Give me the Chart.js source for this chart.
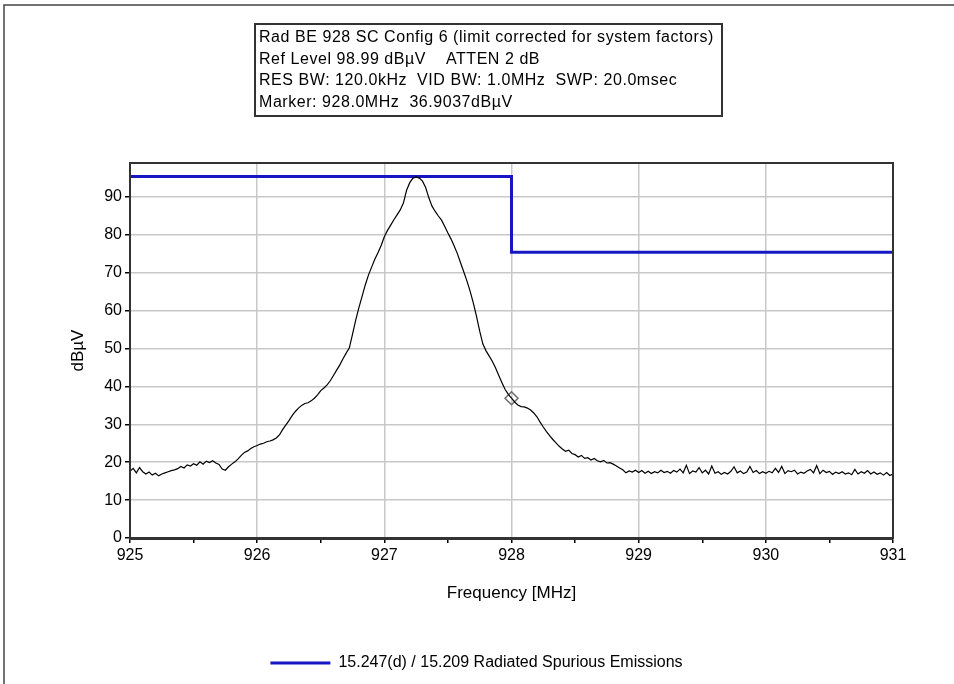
<!DOCTYPE html>
<html>
<head>
<meta charset="utf-8">
<script src="https://cdn.jsdelivr.net/npm/chart.js@4.4.1/dist/chart.umd.min.js"></script>
<style>
  body { margin: 0; background: #fff; }
  #wrap { position: relative; width: 954px; height: 684px; }
  #info {
    position: absolute; left: 254px; top: 23px; width: 462px; height: 89px;
    border: 2px solid #333; padding: 1px 0 0 3px;
    font: 16px "Liberation Sans", Arial, sans-serif; line-height: 21.7px; color: #000;
    letter-spacing: 0.55px; white-space: nowrap;
  }
</style>
</head>
<body>
<div id="wrap">
  <canvas id="specChart" width="954" height="684"></canvas>
  <div id="info">
    <div>Rad BE 928 SC Config 6 (limit corrected for system factors)</div>
    <div>Ref Level 98.99 dBµV &nbsp;&nbsp;&nbsp;ATTEN 2 dB</div>
    <div>RES BW: 120.0kHz &nbsp;VID BW: 1.0MHz &nbsp;SWP: 20.0msec</div>
    <div>Marker: 928.0MHz &nbsp;36.9037dBµV</div>
  </div>
</div>
<script>
// sweep 925 - 931 MHz, one reading every 25 kHz
const sweepStart = 925;
const sweepStep = 0.025;

// trace level in dBuV
const traceLevel = [
  17.6, 18.4, 17.2, 18.6, 17.5, 16.9, 17.4, 16.6, 17.1, 16.4,
  16.9, 17.2, 17.5, 17.8, 18.0, 18.3, 18.9, 18.5, 19.3, 19.0,
  19.6, 19.2, 20.1, 19.5, 20.3, 19.9, 20.4, 19.8, 19.4, 18.2,
  17.9, 18.8, 19.5, 20.1, 20.9, 21.8, 22.6, 23.0, 23.6, 24.1,
  24.4, 24.8, 25.0, 25.4, 25.6, 25.9, 26.4, 27.2, 28.6, 29.8,
  31.0, 32.3, 33.4, 34.3, 35.0, 35.5, 35.7, 36.2, 36.9, 37.8,
  38.9, 39.6, 40.4, 41.5, 42.9, 44.3, 45.7, 47.3, 48.8, 50.2,
  53.8, 57.5, 60.8, 63.8, 66.8, 69.4, 71.5, 73.6, 75.3, 77.2,
  79.5, 81.2, 82.6, 84.0, 85.3, 86.6, 88.4, 91.8, 93.8, 95.0,
  95.3, 95.0, 94.2, 92.5, 89.8, 87.6, 86.2, 85.0, 83.9, 82.2,
  80.5, 78.9, 77.0, 75.0, 72.6, 70.2, 67.8, 65.1, 62.0, 58.5,
  54.6, 51.2, 49.4, 48.0, 46.6, 44.9, 42.9, 41.0, 39.2, 37.9,
  36.9, 35.9, 35.1, 34.7, 34.6, 34.3, 33.8, 33.0, 32.0, 30.6,
  29.3, 28.1, 27.0, 26.0, 25.1, 24.2, 23.5, 22.9, 23.2, 22.3,
  22.0, 21.4, 21.8, 21.0, 21.2, 20.6, 21.0, 20.4, 20.1, 20.5,
  19.8, 19.9, 19.5, 19.0, 18.5, 18.0, 17.2, 17.7, 17.4, 17.9,
  17.3, 17.8, 17.1, 17.6, 17.0, 17.5, 17.2, 17.9, 17.3, 17.6,
  17.1, 17.8, 17.4, 18.2, 17.2, 19.2, 17.0, 17.7, 17.4, 18.6,
  17.2, 17.9, 16.9, 19.0, 17.1, 17.5, 16.8, 17.3, 16.9, 17.6,
  18.8, 17.2, 17.7, 17.0, 17.4, 18.9, 17.3, 17.8, 17.0, 17.5,
  17.1, 17.6, 17.2, 18.4, 17.3, 18.9, 17.0, 17.8, 17.5, 17.9,
  16.9, 17.4, 17.1, 17.7, 18.1, 17.2, 19.1, 17.0, 17.9, 17.3,
  17.6, 16.8, 17.4, 17.0, 17.5, 16.9, 17.2, 16.7, 18.1, 16.9,
  17.5, 17.1, 17.8, 16.9, 17.4, 16.8, 17.2, 16.6, 17.3, 16.5,
  16.9
];

// limit line
const limitFreq = [925, 928, 928, 931];
const limitLevel = [95.4, 95.4, 75.4, 75.4];
const limitName = "15.247(d) / 15.209 Radiated Spurious Emissions";

// marker
const markerFreq = [928.0];
const markerLevel = [36.9037];

// axis ticks
const xTickValues = [925, 925.5, 926, 926.5, 927, 927.5, 928, 928.5, 929, 929.5, 930, 930.5, 931];
const xTickLabels = ["925", "", "926", "", "927", "", "928", "", "929", "", "930", "", "931"];
const yTickValues = [0, 5, 10, 15, 20, 25, 30, 35, 40, 45, 50, 55, 60, 65, 70, 75, 80, 85, 90, 95];
const yTickLabels = ["0", "", "10", "", "20", "", "30", "", "40", "", "50", "", "60", "", "70", "", "80", "", "90", ""];

const tracePoints = traceLevel.map((v, i) => ({ x: sweepStart + i * sweepStep, y: v }));
const limitPoints = limitFreq.map((f, i) => ({ x: f, y: limitLevel[i] }));
const markerPoints = markerFreq.map((f, i) => ({ x: f, y: markerLevel[i] }));

const FONT = "'Liberation Sans', Arial, sans-serif";

// frame round the plot and the outer window edge
const framePlugin = {
  id: "frames",
  afterDraw(chart) {
    const { ctx, chartArea: a } = chart;
    ctx.save();
    ctx.strokeStyle = "#333";
    ctx.lineWidth = 2;
    ctx.strokeRect(a.left, a.top, a.right - a.left, a.bottom - a.top);
    ctx.strokeStyle = "#444";
    ctx.lineWidth = 1.5;
    ctx.beginPath();
    ctx.moveTo(4, 684);
    ctx.lineTo(4, 5);
    ctx.lineTo(954, 5);
    ctx.stroke();
    ctx.restore();
  }
};

const specChart = new Chart(document.getElementById("specChart"), {
  type: "scatter",
  data: {
    datasets: [
      {
        data: tracePoints,
        showLine: true,
        borderColor: "#000",
        borderWidth: 1.2,
        pointRadius: 0,
        tension: 0
      },
      {
        data: markerPoints,
        pointStyle: "rectRot",
        pointRadius: 6.5,
        borderColor: "#6e6e6e",
        borderWidth: 1.5,
        backgroundColor: "rgba(255,255,255,0)"
      },
      {
        label: limitName,
        data: limitPoints,
        showLine: true,
        borderColor: "#1616c4",
        backgroundColor: "#1616c4",
        borderWidth: 3,
        pointRadius: 0,
        pointStyle: "line",
        tension: 0
      }
    ]
  },
  options: {
    responsive: false,
    animation: false,
    layout: { padding: { left: 60, top: 163, right: 61, bottom: 3 } },
    plugins: {
      tooltip: { enabled: false },
      legend: {
        position: "bottom",
        labels: {
          filter: (item) => !!item.text,
          color: "#000",
          font: { family: FONT, size: 16 },
          usePointStyle: true,
          pointStyleWidth: 60,
          boxHeight: 16,
          padding: 15
        }
      }
    },
    scales: {
      x: {
        type: "linear",
        min: 925,
        max: 931,
        afterBuildTicks: (s) => { s.ticks = xTickValues.map((v) => ({ value: v })); },
        afterFit: (s) => { s.height = 102; },
        ticks: {
          autoSkip: false,
          maxRotation: 0,
          padding: 3,
          color: "#000",
          font: { family: FONT, size: 16 },
          callback: (v) => xTickLabels[xTickValues.indexOf(v)]
        },
        grid: {
          color: (c) => (c.tick && Number.isInteger(c.tick.value) ? "#c8c8c8" : "rgba(0,0,0,0)"),
          lineWidth: 1.5,
          tickColor: "#000",
          tickLength: 5
        },
        border: { color: "#333", width: 3 },
        title: {
          display: true,
          text: "Frequency [MHz]",
          color: "#000",
          font: { family: FONT, size: 17 },
          padding: { top: 4, bottom: 36 }
        }
      },
      y: {
        min: 0,
        max: 98.99,
        afterBuildTicks: (s) => { s.ticks = yTickValues.map((v) => ({ value: v })); },
        afterFit: (s) => { s.width = 70; },
        ticks: {
          padding: 3,
          color: "#000",
          font: { family: FONT, size: 16 },
          callback: (v) => yTickLabels[yTickValues.indexOf(v)]
        },
        grid: {
          color: (c) => (c.tick && c.tick.value % 10 === 0 ? "#c8c8c8" : "rgba(0,0,0,0)"),
          lineWidth: 1.5,
          tickColor: "#000",
          tickLength: 5
        },
        border: { color: "#333", width: 2 },
        title: {
          display: true,
          text: "dBµV",
          color: "#000",
          font: { family: FONT, size: 17 },
          padding: { top: 8, bottom: 4 }
        }
      }
    }
  },
  plugins: [framePlugin]
});
</script>
</body>
</html>
